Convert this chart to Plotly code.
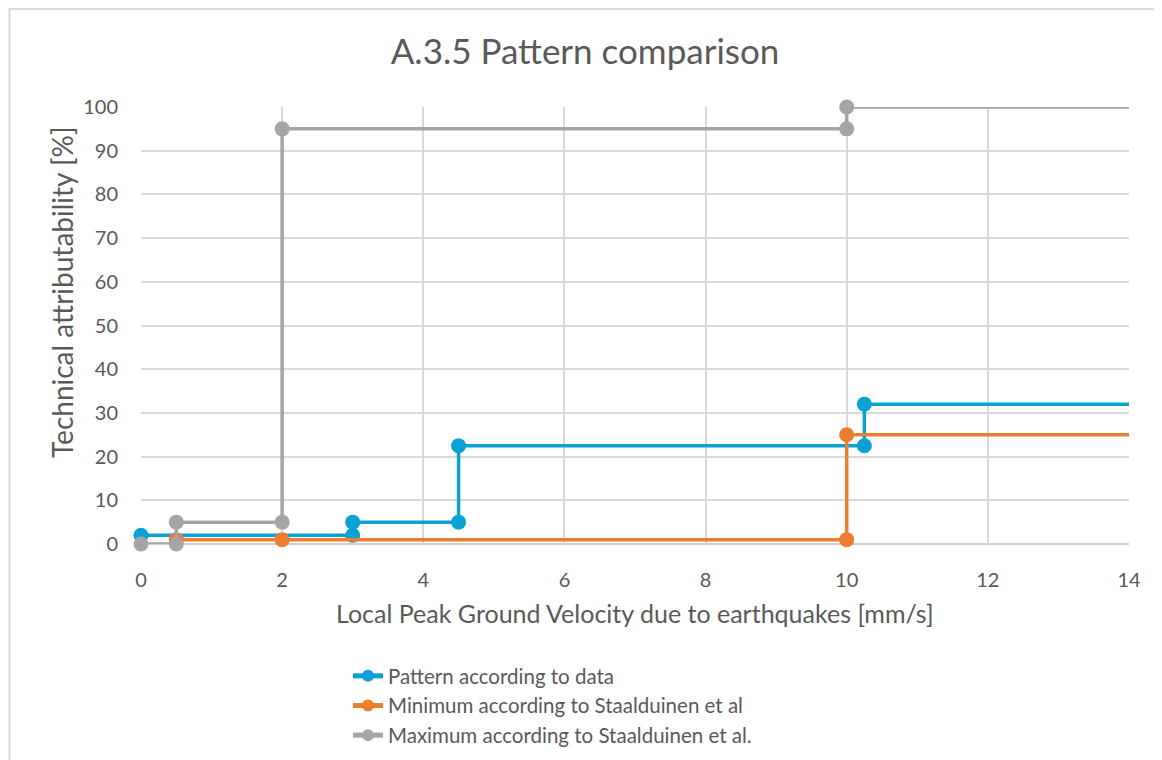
import plotly.graph_objects as go

# Data (step patterns: vertices of each series)
pattern_x = [0, 3, 3, 4.5, 4.5, 10.25, 10.25, 14]
pattern_y = [2, 2, 5, 5, 22.5, 22.5, 32, 32]

minimum_x = [0.5, 2, 10, 10, 14]
minimum_y = [1, 1, 1, 25, 25]

maximum_x = [0, 0.5, 0.5, 2, 2, 10, 10, 14]
maximum_y = [0, 0, 5, 5, 95, 95, 100, 100]

names = ["Pattern according to data",
         "Minimum according to Staalduinen et al",
         "Maximum according to Staalduinen et al."]
colors = ["#0AA2D4", "#ED7D31", "#A5A5A5"]

x_ticks = [0, 2, 4, 6, 8, 10, 12, 14]
y_ticks = [0, 10, 20, 30, 40, 50, 60, 70, 80, 90, 100]

FONT = "Lato, 'Open Sans', sans-serif"
TXT = "#595959"

# page offset of the figure (body margin) and plot-area pixel box
OFF = 8
PL, PR, PT, PB = 141, 1129, 107, 544
W, H = 1162 - OFF, 760 - OFF
PW, PH = PR - PL, PB - PT


def px_x(p):
    return (p - PL) / PW


def px_y(p):
    return (PB - p) / PH


fig = go.Figure()
for xs, ys, name, col in zip([pattern_x, minimum_x, maximum_x],
                             [pattern_y, minimum_y, maximum_y],
                             names, colors):
    sizes = [15] * (len(xs) - 1) + [0]
    fig.add_trace(go.Scatter(
        x=xs, y=ys, name=name, mode="lines+markers",
        line=dict(color=col, width=3.5),
        marker=dict(color=col, size=sizes, opacity=1, line=dict(width=0)),
        cliponaxis=False,
    ))

fig.update_layout(
    width=W, height=H,
    paper_bgcolor="white", plot_bgcolor="white",
    margin=dict(l=PL - OFF, r=W - (PR - OFF), t=PT - OFF, b=H - (PB - OFF),
                autoexpand=False),
    font=dict(family=FONT, color=TXT, size=20),
    title=dict(text="A.3.5 Pattern comparison", x=0.5, xanchor="center",
               y=1 - (52 - OFF) / H, yanchor="middle",
               font=dict(size=35, color=TXT, family=FONT)),
    showlegend=True,
    legend=dict(orientation="v", x=px_x(348), xanchor="left",
                y=px_y(656), yanchor="top",
                font=dict(size=20.5, color=TXT, family=FONT),
                itemsizing="constant", tracegroupgap=0,
                bgcolor="rgba(0,0,0,0)"),
    xaxis=dict(range=[0, 14], tickvals=x_ticks, showgrid=True,
               gridcolor="#D9D9D9", gridwidth=1.5, zeroline=False,
               showline=False, ticks="", tickfont=dict(size=20),
               ticklabelstandoff=22),
    yaxis=dict(range=[0, 100], tickvals=y_ticks, showgrid=True,
               gridcolor="#D9D9D9", gridwidth=1.5, zeroline=False,
               showline=False, ticks="", tickfont=dict(size=20),
               ticklabelstandoff=22),
    annotations=[
        dict(text="Local Peak Ground Velocity due to earthquakes [mm/s]",
             xref="paper", yref="paper", x=0.5, y=px_y(613),
             xanchor="center", yanchor="middle", showarrow=False,
             font=dict(size=25, color=TXT, family=FONT)),
        dict(text="Technical attributability [%]",
             xref="paper", yref="paper", x=px_x(62), y=px_y(292),
             xanchor="center", yanchor="middle", showarrow=False,
             textangle=-90,
             font=dict(size=28, color=TXT, family=FONT)),
    ],
    shapes=[
        dict(type="line", xref="paper", yref="paper", x0=0, x1=1, y0=0, y1=0,
             line=dict(color="#BFBFBF", width=1.5), layer="below"),
        dict(type="rect", xref="paper", yref="paper",
             x0=px_x(9.5), x1=1.3, y0=-1.0, y1=px_y(9),
             line=dict(color="#D9D9D9", width=2), fillcolor="rgba(0,0,0,0)",
             layer="below"),
    ],
)

fig.write_html("out.html")
